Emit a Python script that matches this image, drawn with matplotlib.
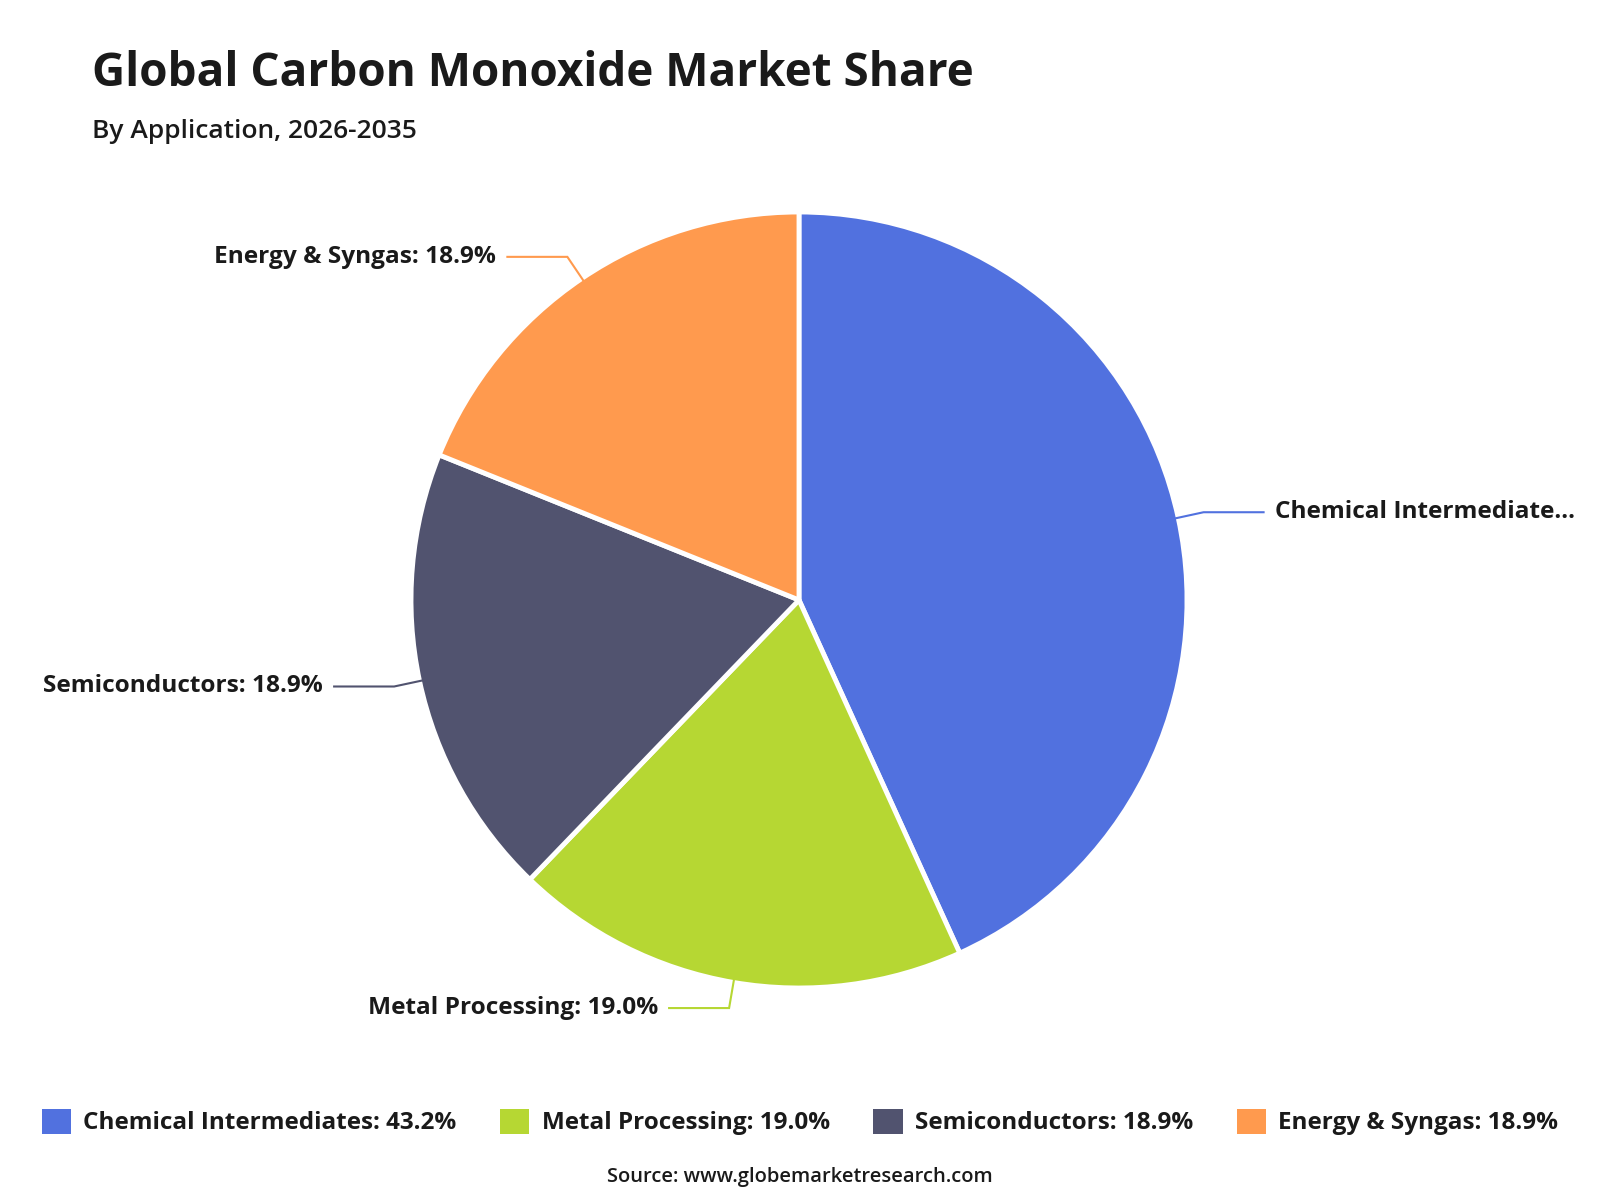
import numpy as np
import matplotlib
matplotlib.use('Agg')
import matplotlib.pyplot as plt

plt.rcParams['font.family'] = ['Open Sans', 'DejaVu Sans']

# data
categories = ["Chemical Intermediates", "Metal Processing", "Semiconductors", "Energy & Syngas"]
shares = [43.2, 19.0, 18.9, 18.9]
colors = ["#5171DF", "#B6D733", "#51536F", "#FF9A4E"]
short_labels = ["Chemical Intermediate...", "Metal Processing: 19.0%", "Semiconductors: 18.9%", "Energy & Syngas: 18.9%"]

W, H = 1600, 1200
fig = plt.figure(figsize=(16, 12), dpi=100)
ax = fig.add_axes([0, 0, 1, 1])

cx, cy, R = 799, H - 600, 388
wedges, _ = ax.pie(shares, colors=colors, startangle=90, counterclock=False,
                   center=(cx, cy), radius=R, frame=True,
                   wedgeprops=dict(edgecolor='white', linewidth=3.5, joinstyle='round'))
ax.set_xlim(0, W)
ax.set_ylim(0, H)
ax.set_aspect('equal')
ax.axis('off')

# leader lines and outside labels
for w, lab, col in zip(wedges, short_labels, colors):
    ang = np.deg2rad((w.theta1 + w.theta2) / 2)
    dx, dy = np.cos(ang), np.sin(ang)
    x0, y0 = cx + (R - 4) * dx, cy + (R - 4) * dy
    x1, y1 = cx + (R + 26) * dx, cy + (R + 26) * dy
    side = 1 if dx >= 0 else -1
    x2 = x1 + side * 60
    ax.plot([x0, x1, x2], [y0, y1, y1], color=col, lw=1.5, solid_joinstyle='miter')
    ax.text(x2 + side * 11, y1, lab, ha='left' if side > 0 else 'right', va='center',
            fontsize=17.6, fontweight='bold', color='#1a1a1a')

# title and subtitle
fig.text(92 / W, 1 - 73 / H, "Global Carbon Monoxide Market Share", fontsize=33,
         fontweight='bold', color='#1a1a1a', va='center', ha='left')
fig.text(92 / W, 1 - 132 / H, "By Application, 2026-2035", fontsize=19,
         fontweight='semibold', color='#1a1a1a', va='center', ha='left')

# legend
leg = fig.legend(wedges, [f"{c}: {s:.1f}%" for c, s in zip(categories, shares)],
                 loc='center', bbox_to_anchor=(0.5, 1 - 1122 / H), ncol=4, frameon=False,
                 handlelength=1.2, handleheight=1.2, handletextpad=0.5, columnspacing=1.8,
                 prop=dict(size=17.5, weight='bold'))
for h in leg.legend_handles:
    h.set_edgecolor('none')
for t in leg.get_texts():
    t.set_color('#1a1a1a')

fig.text(0.5, 1 - 1177 / H, "Source: www.globemarketresearch.com", fontsize=14.5,
         fontweight='semibold', color='#1a1a1a', ha='center', va='center')

fig.savefig('out.png', dpi=100, facecolor='white')
